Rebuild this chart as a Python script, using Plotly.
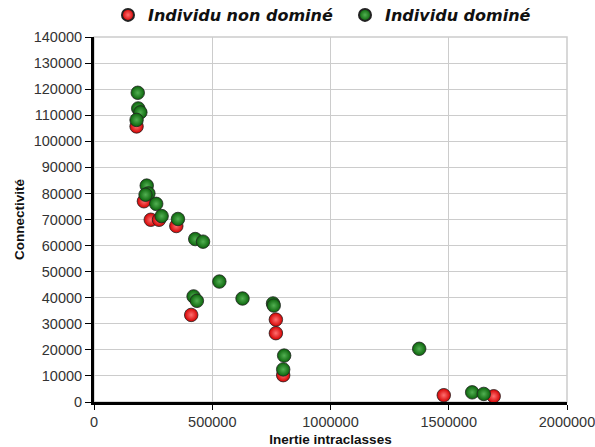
import plotly.graph_objects as go

# Inertie intraclasses (x) et connectivité (y) des individus
non_domine_x = [180000, 211000, 240000, 275000, 348000, 411000, 769000, 769000, 800000, 1479000, 1690000]
non_domine_y = [105700, 77000, 69900, 69900, 67500, 33400, 31600, 26400, 10300, 2600, 2200]

domine_x = [185000, 187000, 196000, 180000, 223000, 230000, 218000, 263000, 286000, 355000,
            428000, 461000, 530000, 421000, 435000, 628000, 757000, 760000, 804000, 800000,
            1375000, 1599000, 1648000]
domine_y = [118600, 112600, 111100, 108200, 83000, 80000, 79500, 76000, 71300, 70200,
            62500, 61500, 46200, 40500, 38800, 39700, 37800, 37000, 17800, 12500,
            20400, 3700, 3100]

x_ticks = [0, 500000, 1000000, 1500000, 2000000]
y_ticks = list(range(0, 140001, 10000))

fig = go.Figure()


def sphere(color, light):
    return dict(
        size=13.5,
        color=color,
        line=dict(color="#222222", width=0.8),
        gradient=dict(type="radial", color=light),
    )


fig.add_trace(go.Scatter(
    x=non_domine_x, y=non_domine_y, mode="markers",
    name="Individu non dominé", legend="legend",
    marker=sphere("#d40000", "#ff7070"),
))
fig.add_trace(go.Scatter(
    x=domine_x, y=domine_y, mode="markers",
    name="Individu dominé", legend="legend2",
    marker=sphere("#0b640b", "#52b052"),
))

axis_font = dict(family="Liberation Sans, Arial, sans-serif", size=14.5, color="#333333")
title_font = dict(family="Liberation Sans, Arial, sans-serif", size=13.5,
                  color="#111111", weight="bold")

fig.update_xaxes(
    range=[0, 2000000], tickvals=x_ticks, ticktext=[str(v) for v in x_ticks],
    showgrid=True, gridcolor="#cccccc", gridwidth=1,
    showline=True, linecolor="black", linewidth=3,
    ticks="outside", ticklen=5, tickcolor="black", tickwidth=1,
    zeroline=False, tickfont=axis_font, ticklabeloverflow="allow",
    title=dict(text="Inertie intraclasses", font=title_font, standoff=6),
)
fig.update_yaxes(
    range=[0, 140000], tickvals=y_ticks, ticktext=[str(v) for v in y_ticks],
    showgrid=True, gridcolor="#cccccc", gridwidth=1,
    showline=True, linecolor="black", linewidth=3,
    ticks="outside", ticklen=6, tickcolor="black", tickwidth=1,
    zeroline=False, tickfont=axis_font, ticklabeloverflow="allow",
    title=dict(text="Connectivité", font=title_font, standoff=6),
)

# gray frame on the top and right of the plotting area
fig.add_shape(type="rect", xref="paper", yref="paper", x0=0, y0=0, x1=1, y1=1,
              line=dict(color="#cccccc", width=1.5), layer="below")

legend_font = dict(family="DejaVu Sans, Verdana, sans-serif", size=16,
                   color="#111111", weight="bold", style="italic")


def legend_box(left_px):
    return dict(
        orientation="h", xref="container", yref="container",
        x=left_px / 595, xanchor="left", y=1 - 15 / 447, yanchor="middle",
        font=legend_font, itemsizing="constant", bgcolor="rgba(0,0,0,0)",
    )


fig.update_layout(
    width=595, height=447,
    margin=dict(l=94, r=28, t=37, b=45, autoexpand=False),
    paper_bgcolor="white", plot_bgcolor="white",
    showlegend=True,
    legend=legend_box(108),
    legend2=legend_box(345),
)

fig.write_html("out.html")
